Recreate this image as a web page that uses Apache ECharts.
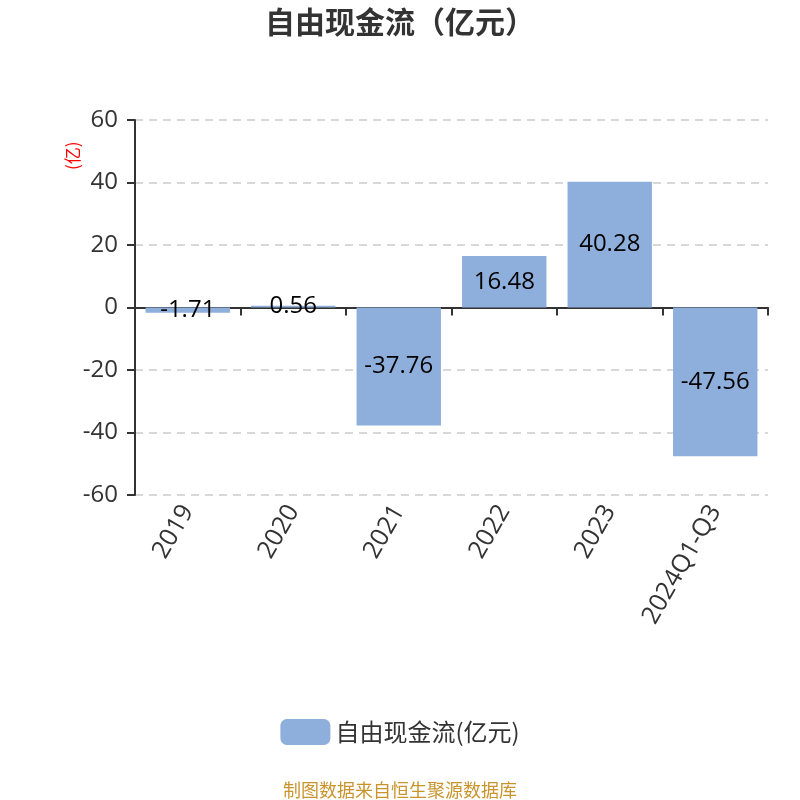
<!DOCTYPE html>
<html>
<head>
<meta charset="utf-8">
<script src="https://cdn.jsdelivr.net/npm/echarts@6/dist/echarts.min.js"></script>
<style>html,body{margin:0;padding:0;background:#fff}#c{width:800px;height:800px}</style>
</head>
<body>
<div id="c"></div>
<script>
const categories = ['2019', '2020', '2021', '2022', '2023', '2024Q1-Q3'];
const values = [-1.71, 0.56, -37.76, 16.48, 40.28, -47.56];
const seriesName = '自由现金流(亿元)';
const titleText = '自由现金流（亿元）';
const unitText = '(亿)';
const sourceText = '制图数据来自恒生聚源数据库';
const yTicks = { min: -60, max: 60, interval: 20 };

const numFont = 'Open Sans, Noto Sans CJK SC, sans-serif';
const cjkFont = 'Noto Sans CJK SC, sans-serif';

const chart = echarts.init(document.getElementById('c'));
chart.setOption({
  backgroundColor: '#fff',
  textStyle: { fontFamily: cjkFont },
  title: [{
    text: titleText, left: 'center', top: 2,
    textStyle: { fontSize: 30, fontWeight: 'bold', color: '#333', fontFamily: cjkFont }
  }, {
    text: sourceText, left: 'center', top: 776,
    textStyle: { fontSize: 18, fontWeight: 'normal', color: '#c8942c', fontFamily: cjkFont }
  }],
  graphic: [{
    type: 'text', x: 64, y: 170, rotation: Math.PI / 2, originX: 0, originY: 0,
    style: { text: unitText, fill: '#ff0000', fontSize: 17, fontFamily: cjkFont }
  }],
  legend: {
    data: [seriesName], bottom: 50, left: 'center',
    itemWidth: 50, itemHeight: 26, itemGap: 12,
    textStyle: { fontSize: 24, color: '#333', fontFamily: cjkFont }
  },
  grid: { left: 135, right: 32, top: 120, bottom: 305 },
  xAxis: {
    type: 'category', data: categories,
    axisLine: { onZero: true, lineStyle: { color: '#333', width: 2 } },
    axisTick: { show: true, length: 8, lineStyle: { color: '#333', width: 2 } },
    axisLabel: { rotate: 60, fontSize: 25, color: '#333', margin: 12, interval: 0, fontFamily: numFont },
    position: 'bottom'
  },
  yAxis: {
    type: 'value', min: yTicks.min, max: yTicks.max, interval: yTicks.interval,
    axisLine: { show: true, lineStyle: { color: '#333', width: 2 } },
    axisTick: { show: true, length: 8, lineStyle: { color: '#333', width: 2 } },
    axisLabel: { fontSize: 24, color: '#333', margin: 17, fontFamily: numFont },
    splitLine: { lineStyle: { type: [8, 6], color: '#ccc', width: 1.5 } }
  },
  series: [{
    name: seriesName, type: 'bar', data: values, barWidth: '80%',
    itemStyle: { color: '#8eaedb' },
    label: { show: true, position: 'inside', fontSize: 24, color: '#000', fontFamily: numFont }
  }]
});
</script>
</body>
</html>
